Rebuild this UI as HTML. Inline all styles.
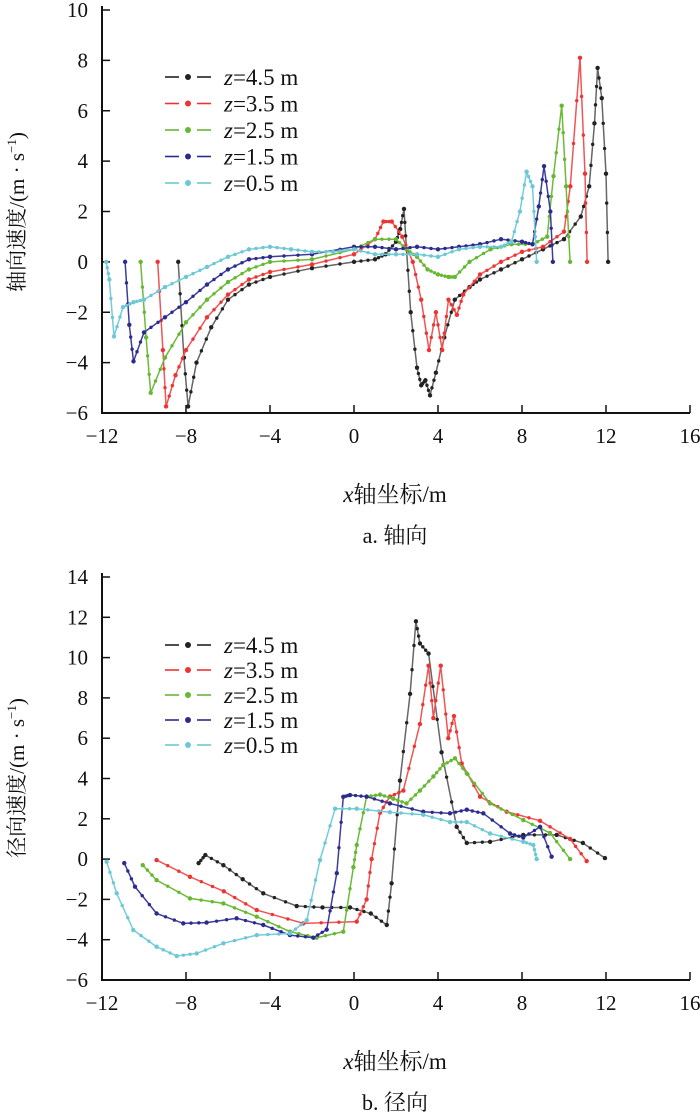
<!DOCTYPE html>
<html><head><meta charset="utf-8"><style>
body{margin:0;background:#fff}
svg text{font-family:"Liberation Serif","Noto Serif CJK SC",serif;fill:#111}
</style></head><body>
<svg id="s" width="700" height="1114"></svg>
<script>
const xTicks=[-12,-8,-4,0,4,8,12,16];
const yTicksA=[-6,-4,-2,0,2,4,6,8,10];
const yTicksB=[-6,-4,-2,0,2,4,6,8,10,12,14];
const seriesNames=["z=4.5 m","z=3.5 m","z=2.5 m","z=1.5 m","z=0.5 m"];
// Axial velocity
const a45x=[-8.37,-8.1,-7.9,-7.5,-6.8,-6,-5,-4,-2,0,1,1.5,2,2.2,2.38,2.5,2.7,3.0,3.2,3.4,3.62,3.9,4.3,4.8,5.5,6,7,8,9,10,10.8,11.2,11.45,11.6,11.8,12.0,12.1];
const a45y=[0,-3.8,-5.74,-4.0,-2.6,-1.5,-0.9,-0.6,-0.25,0,0.1,0.3,0.8,1.3,2.1,0.5,-2.0,-4.2,-4.9,-4.7,-5.3,-4.4,-3.0,-1.5,-1.0,-0.7,-0.3,0.1,0.5,0.9,1.8,3.0,5.5,7.7,6.5,3.5,0];
const a35x=[-9.35,-9.1,-8.95,-8.5,-8,-7,-6,-5,-4,-2,0,1,1.4,1.8,2.3,2.8,3.2,3.57,3.9,4.2,4.5,4.9,5.2,6,7,8,9,10,10.3,10.76,11.0,11.1];
const a35y=[0,-3.5,-5.74,-4.5,-3.5,-2.2,-1.3,-0.7,-0.4,-0.1,0.3,0.9,1.6,1.6,1.0,0,-1.5,-3.5,-2.0,-3.5,-1.5,-2.1,-1.3,-0.5,0,0.4,0.6,1.2,3.0,8.1,3.5,0];
const a25x=[-10.16,-9.9,-9.68,-9,-8,-7,-6,-5,-4,-2,0,1,2,2.5,3,3.5,4,4.5,4.8,5.5,6.5,7.5,8.5,9.2,9.5,9.89,10.1,10.29];
const a25y=[0,-3.0,-5.2,-3.8,-2.4,-1.5,-0.8,-0.3,0,0.1,0.5,0.9,0.9,0.5,0.2,-0.3,-0.5,-0.6,-0.6,0,0.5,0.7,0.7,1.0,3.4,6.2,3.0,0];
const a15x=[-10.9,-10.7,-10.5,-10,-9,-8,-7,-6,-5,-4,-2,0,1,2,3,4,5,6,7,8,8.5,8.8,9.05,9.35,9.47];
const a15y=[0,-2.5,-3.95,-2.8,-2.2,-1.6,-0.9,-0.3,0.1,0.2,0.3,0.6,0.6,0.5,0.6,0.5,0.6,0.7,0.9,0.8,0.7,2.2,3.8,2.0,0];
const a05x=[-11.8,-11.65,-11.43,-11,-10.5,-10,-9,-8,-7,-6,-5,-4,-3,-2,-1,0,1,2,3,4,5,6,7,7.5,7.9,8.22,8.5,8.7];
const a05y=[0,-0.7,-2.96,-1.8,-1.6,-1.5,-1.0,-0.6,-0.2,0.2,0.5,0.6,0.5,0.4,0.4,0.5,0.3,0.3,0.3,0.2,0.5,0.6,0.6,0.8,2.0,3.58,3.0,0];
// Radial velocity
const b45x=[-7.4,-7.08,-6.22,-5.3,-4.32,-2.73,-1.5,-0.19,0.8,1.56,1.79,2.19,2.67,2.95,3.14,3.55,4.17,4.89,5.37,6.48,8.06,9.65,10.9,11.95];
const b45y=[-0.2,0.2,-0.3,-1.0,-1.7,-2.33,-2.4,-2.4,-2.7,-3.27,-1.2,3.9,8.2,11.8,10.7,10.2,5.3,1.6,0.8,0.86,1.2,1.2,0.8,0.05];
const b35x=[-9.4,-7.81,-6.2,-4.63,-2.41,0.13,0.6,0.84,1.24,1.71,2.35,3.14,3.55,3.78,4.13,4.49,4.76,5.13,6.0,7.27,8.86,10.29,11.08];
const b35y=[-0.05,-0.88,-1.6,-2.53,-3.19,-3.1,-2.0,0,2.3,3.1,3.4,6.7,9.6,7.0,9.6,6.0,7.1,4.75,3.1,2.35,1.9,1.0,-0.1];
const b25x=[-10.06,-9.4,-7.81,-6.22,-4.63,-3.05,-1.78,-0.51,-0.03,0.13,0.6,1.24,1.87,2.5,3.14,3.78,4.25,4.81,5.37,6.48,8.06,9.33,10.29];
const b25y=[-0.3,-1.04,-1.95,-2.2,-2.86,-3.6,-3.9,-3.6,-0.4,0.7,3.1,3.2,3.0,2.76,3.4,4.1,4.67,5.0,4.25,2.76,1.94,1.3,0];
const b15x=[-10.94,-10.43,-9.4,-8.13,-7.02,-5.59,-4.32,-3.05,-1.94,-1.3,-0.82,-0.51,-0.19,0.6,1.71,3.3,4.57,5.37,6.16,7.43,8.06,8.86,9.41];
const b15y=[-0.2,-1.37,-2.7,-3.19,-3.15,-2.94,-3.27,-3.77,-3.9,-3.5,-0.7,3.09,3.18,3.1,2.76,2.35,2.27,2.45,2.27,1.27,1.07,1.6,0.12];
const b05x=[-11.78,-11.3,-10.51,-9.4,-8.44,-7.49,-6.22,-4.63,-3.05,-2.25,-1.62,-0.9,0.13,1.71,3.3,4.57,5.37,6.48,8.06,8.54,8.7];
const b05y=[-0.13,-1.7,-3.52,-4.35,-4.81,-4.68,-4.18,-3.77,-3.69,-3.03,-0.05,2.5,2.5,2.33,2.2,1.84,1.84,1.27,0.86,0.7,0];
const colors=["#222","#ee3333","#66b733","#2b2b8f","#6cc8d4"];
const lineCols=["#666","#f05555","#6cbb38","#3d3d9a","#74ccd8"];
const NS="http://www.w3.org/2000/svg";
const svg=document.getElementById('s');
function mk(t,a,p){const e=document.createElementNS(NS,t);for(const k in a)e.setAttribute(k,a[k]);(p||svg).appendChild(e);return e;}
function panel(cfg){
  const g=mk('g',{});
  
  
  const X0=102,X1=690;
  const sx=v=>X0+(v-(-12))/(28)*(X1-X0);
  const sy=v=>cfg.yb-(v-cfg.ymin)/(cfg.ymax-cfg.ymin)*(cfg.yb-cfg.yt);
  const ax=mk('path',{d:`M${X0},${cfg.yt-4}V${cfg.yb}H${X1}`,stroke:'#111','stroke-width':2,fill:'none'},g);
  
  
  xTicks.forEach(t=>{
    mk('line',{x1:sx(t),x2:sx(t),y1:cfg.yb,y2:cfg.yb-8,stroke:'#111','stroke-width':1.5},g);
    const tx=mk('text',{x:sx(t),y:cfg.yb+30,'text-anchor':'middle','font-size':21},g);
    tx.textContent=t<0?'\u2212'+(-t):t;
    
    
  });
  cfg.yticks.forEach(t=>{
    mk('line',{x1:X0,x2:X0+8,y1:sy(t),y2:sy(t),stroke:'#111','stroke-width':1.5},g);
    const tx=mk('text',{x:88,y:sy(t)+7,'text-anchor':'end','font-size':21},g);
    tx.textContent=t<0?'\u2212'+(-t):t;
    
    
  });
  cfg.series.forEach((s,i)=>{
    const sg=mk('g',{},g);
    
    
    const xs=s[0],ys=s[1];
    let d='';xs.forEach((x,j)=>{d+=(j?'L':'M')+sx(x).toFixed(1)+','+sy(ys[j]).toFixed(1);});
    mk('path',{d,stroke:lineCols[i],'stroke-width':1.5,fill:'none'},sg);
    xs.forEach((x,j)=>{
      const c=mk('circle',{cx:sx(x),cy:sy(ys[j]),r:2.2,fill:colors[i]},sg);
      
      
      if(j<xs.length-1){
        for(const f of [1/3,2/3]){
          const mx=x+(xs[j+1]-x)*f,my=ys[j]+(ys[j+1]-ys[j])*f;
          mk('circle',{cx:sx(mx),cy:sy(my),r:1.7,fill:colors[i]},sg);
        }
      }
    });
  });
  seriesNames.forEach((n,i)=>{
    const y=cfg.ly+i*cfg.lstep;
    const lg=mk('g',{},g);
    
    
    mk('line',{x1:165,x2:179,y1:y,y2:y,stroke:colors[i],'stroke-width':1.6},lg);
    mk('line',{x1:197,x2:211,y1:y,y2:y,stroke:colors[i],'stroke-width':1.6},lg);
    mk('circle',{cx:188,cy:y,r:3,fill:colors[i]},lg);
    const t=mk('text',{x:224,y:y+8,'font-size':23},lg);
    t.innerHTML='<tspan font-style="italic">z</tspan>'+n.slice(1);
  });
  const yt=mk('text',{transform:`translate(24,${cfg.ytc}) rotate(-90)`,'text-anchor':'middle','font-size':21},g);
  yt.innerHTML=cfg.ytitle+'/(m · s<tspan dy="-8" font-size="13">−1</tspan><tspan dy="8">)</tspan>';
  
  
  const xt=mk('text',{x:395,y:cfg.yb+89,'text-anchor':'middle','font-size':23},g);
  xt.innerHTML='<tspan font-style="italic">x</tspan>轴坐标/m';
  
  
  const cp=mk('text',{x:395,y:cfg.yb+130,'text-anchor':'middle','font-size':22},g);
  cp.textContent=cfg.caption;
  
  
}
panel({name:'axial-velocity-chart',yt:10,yb:413,ymin:-6,ymax:10,yticks:yTicksA,
  series:[[a45x,a45y],[a35x,a35y],[a25x,a25y],[a15x,a15y],[a05x,a05y]],
  ly:77,lstep:26.5,ytitle:'轴向速度',ytc:212,caption:'a. 轴向'});
panel({name:'radial-velocity-chart',yt:577,yb:980,ymin:-6,ymax:14,yticks:yTicksB,
  series:[[b45x,b45y],[b35x,b35y],[b25x,b25y],[b15x,b15y],[b05x,b05y]],
  ly:645,lstep:25,ytitle:'径向速度',ytc:778,caption:'b. 径向'});
</script>
</body></html>
